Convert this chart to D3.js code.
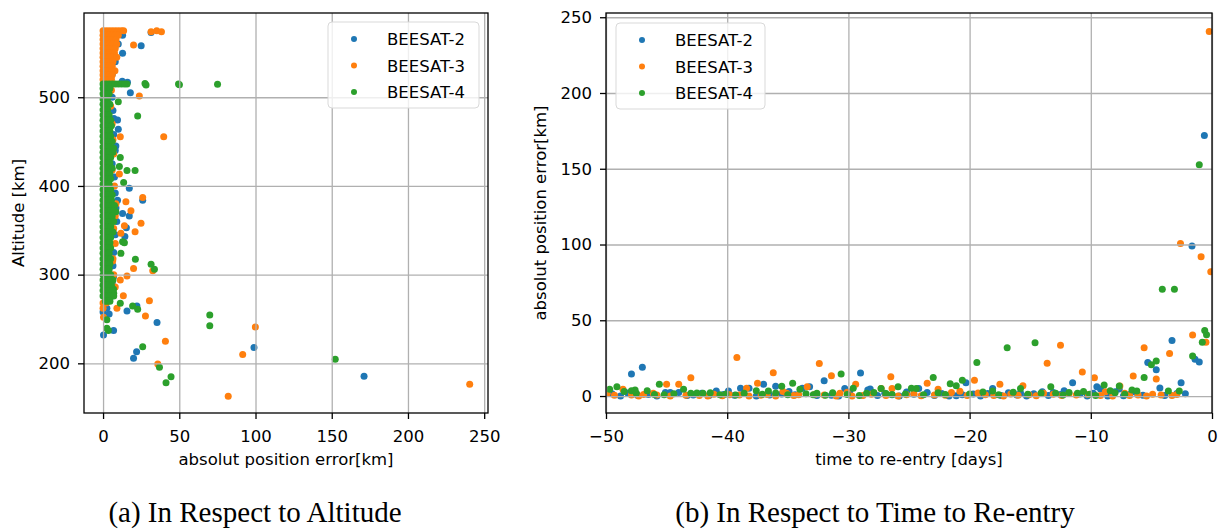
<!DOCTYPE html>
<html lang="en">
<head>
<meta charset="utf-8">
<title>BEESAT position error</title>
<script src="https://cdn.jsdelivr.net/npm/d3@7/dist/d3.min.js"></script>
<style>
  body {margin: 0; background: #fff;}
  text {font-family: "DejaVu Sans", sans-serif; fill: #000;}
  .caption {font-family: "Liberation Serif", "Times New Roman", serif;}
</style>
</head>
<body>
<svg width="1219" height="532"></svg>
<script>
// series
var names = ["BEESAT-2", "BEESAT-3", "BEESAT-4"];
var colors = ["#1f77b4", "#ff7f0e", "#2ca02c"];

// ticks
var ticksErrA = [0, 50, 100, 150, 200, 250];
var ticksAltA = [200, 300, 400, 500];
var ticksDaysB = [-50, -40, -30, -20, -10, 0];
var ticksErrB = [0, 50, 100, 150, 200, 250];

// (a) error vs altitude : [error km, altitude km]
var b2Alt = [[31.5,573],[12.8,570],[25,558],[12.8,549.6],[10,560],[8,540],[6,526],[12.6,518],[16,517],[17.9,505],[6,500],[6.5,485],
  [7.1,476],[9.5,474.4],[10,464],[7,458],[8.4,445],[8,440],[6,425],[7.5,410],[17.2,397.4],[8,392],[9.5,384],[26,384],
  [8.5,375],[12.8,369],[17.2,366],[9,360],[15.3,353],[8,345],[14.3,343],[7,325],[6.5,310],[6.9,298],[6,290],[4.7,286],
  [5,275],[1,268],[2.5,262],[15.7,259],[22.2,264.7],[0,258],[4,255.7],[35.4,245.9],[6.9,237],[0.3,232],[22,213],
  [20,205.7],[99,217.8],[171.2,185.4],[2,550],[3,520],[2,480],[2,400],[2,350],[2,300]];

var b3Alt = [[31.5,574],[35.2,575],[38.3,574],[20,559],[7.8,530],[5.6,536],[5.5,508],[23.8,501.5],[5,490],[6,470],
  [39.8,455.6],[11.3,455.6],[6.5,452],[7,436],[6,418],[10.7,413.5],[7.5,400],[26,387],[15,382.3],[8.5,380],[18.3,372],
  [8,366],[24.9,358],[14,355],[7,352],[21,348.5],[11.7,346.7],[8,335],[6.3,315.5],[6.5,318],[20,307],[32.6,304.5],
  [7,300],[15.7,298.5],[11.3,294],[8,286],[13.3,276.3],[30.4,270.7],[0,268],[2,268],[9.1,262],[0,262],[27.8,253.4],
  [0.3,252],[40.9,225],[35.9,199.3],[99.9,241],[91.6,210],[82.1,163],[240.5,176.4]];
// dense part near zero, one row per altitude: [altitude, errors...]
var b3AltRows = [[575,0,2,4,6,8,10,12,13.5],[570,0,2,4,6,8,10],[565,0,2,4,6,8.5],[560,0,2,4,6,9],[555,0,2,4,6,8],
  [550,0,2,4,6,7.5],[545,0,2,4,6,9],[540,0,2,4,6.5],[535,0,2,4,6],[530,0,2,4,5.5],[525,0,2,4,6],[520,0,2,4,5.5]];

var b4Alt = [[15.7,515],[28.2,513.9],[27.5,515.5],[50.1,514],[49.5,515],[75.1,514.6],[10,495],[22.7,479],[6.9,442.5],
  [11.3,432],[10.7,421.8],[15.7,417.3],[21,417.3],[13.5,404],[8.4,371],[12.8,337],[14,336],[11.7,324],[21.2,317.4],
  [31.5,311.7],[33.7,306],[6.9,283.5],[7,279],[11.3,267.8],[19.4,264.7],[22.7,261],[2.5,249],[2.5,239.6],[3.5,237],
  [26,218.8],[37,195.6],[44.6,185],[41.3,178.2],[70,254.6],[70,242.5],[152.3,204.6]];
var b4AltRows = [[515,0,2,4,6,8,10,12,14],[510,0,1.5,3,4.5],[504,0,1.5,3,4],[498,0,1.5,3],[492,0,1.5,3,4.5],[486,0,1.5,3],
  [480,0,1.5,3,4],[474,0,1.5,3,5],[468,0,1.5,3,5.5],[462,0,1.5,3,4.5],[456,0,1.5,3,5],[450,0,1.5,3,6],[444,0,1.5,3,4.5],
  [438,0,1.5,3,6.5],[432,0,1.5,3,5],[426,0,1.5,3,4.5],[420,0,1.5,3,6],[414,0,1.5,3,4.5],[408,0,1.5,3,5],[402,0,1.5,3,4],
  [396,0,1.5,3,5],[390,0,1.5,3,6],[384,0,1.5,3,5.5],[378,0,1.5,3,6,7.5],[372,0,1.5,3,5,7],[366,0,1.5,3,6],
  [360,0,1.5,3,5.5,7],[354,0,1.5,3,5],[348,0,1.5,3,6.5],[342,0,1.5,3,5],[336,0,1.5,3,4.5],[330,0,1.5,3,5],
  [324,0,1.5,3,4],[318,0,1.5,3,5],[312,0,1.5,3,4.5],[306,0,1.5,3,4],[300,0,1.5,3,5],[294,0,1.5,3,4.5,6.5],
  [288,0,1.5,3,5.5],[282,0,1.5,3,6],[276,0,1.5,3,4.5,7],[270,1.5,3,4.5]];

// (b) error vs time to re-entry : [days, error km]
var b2Days = [[-49.5,1.5],[-48.8,0],[-48.2,2],[-47.9,14.5],[-47.4,0.5],[-47,19],[-46.5,1],[-45.8,0],[-45.1,2.4],[-44.7,2.4],
  [-44,2.4],[-43.3,0.4],[-42.8,0.7],[-42.1,1.8],[-41.5,0.3],[-40.9,3.3],[-40.3,1],[-39.9,3.3],[-39.4,0.5],[-38.9,5.1],
  [-38.2,5.1],[-37.6,0],[-37,7.7],[-36.5,0.6],[-36,6.4],[-35.5,1.4],[-34.9,3],[-34.4,0.8],[-33.8,5.1],[-33.2,6.2],
  [-32.6,0.3],[-32,10.1],[-31.4,0.5],[-30.8,0],[-30.3,5],[-29.9,2.6],[-29,15.2],[-28.4,4],[-28.2,4.6],[-27.6,0.4],
  [-27,1.8],[-26.4,0.9],[-25.8,0],[-25.2,2.7],[-24.6,1.1],[-24.2,5],[-23.5,2.4],[-22.9,0.3],[-22.3,1.6],[-21.7,0],
  [-21.1,0.2],[-20.6,0.8],[-20.3,8.8],[-19.7,1.3],[-19.1,0],[-18.5,1.6],[-18.1,5],[-17.4,0.4],[-16.8,2.1],[-16.1,0.7],
  [-15.8,2],[-15.3,0],[-14.7,1.5],[-14,2.8],[-13.5,0.3],[-13.1,2.4],[-12.5,1],[-12.2,3.5],[-11.5,8.8],[-10.9,1.4],
  [-10.3,0],[-9.8,1.9],[-9.5,6.2],[-9.2,4.6],[-8.6,0],[-8,2.8],[-7.65,4.6],[-7.3,0.2],[-6.8,1],[-6.3,2.5],[-5.7,0.5],
  [-5.3,22.2],[-4.6,17.4],[-4.3,5.3],[-3.9,0.3],[-3.3,36.7],[-2.9,1.7],[-2.55,8.8],[-2.2,1.5],[-1.65,99],[-1.4,24.2],
  [-1.05,22.5],[-0.63,172]];

var b3Days = [[-49.9,1.8],[-49.3,0.5],[-48.6,4.4],[-47.9,0.7],[-47.3,0],[-46.9,1],[-46.1,1.8],[-45.8,0.6],[-45,7.7],
  [-44.7,0],[-44,7.7],[-43.4,0.5],[-43,12.1],[-42.3,0.4],[-41.6,0],[-41.1,1.2],[-40.4,0.2],[-39.8,0.9],[-39.2,25.5],
  [-39,0.7],[-38.4,5.1],[-38.2,0],[-37.5,8.4],[-37.2,0.5],[-36.7,1],[-36.2,15.4],[-36,0],[-35.4,3],[-35.1,1.8],
  [-34.5,0.3],[-34.1,0.9],[-33.4,6.2],[-32.8,1],[-32.4,21.4],[-32,0.6],[-31.4,13.4],[-31,0],[-30.7,1.9],[-30.1,2.5],
  [-29.7,0],[-29.4,7.7],[-28.8,0.4],[-28.1,1.2],[-27.3,5],[-26.9,0.3],[-26.5,12.8],[-26.4,5],[-25.9,0],[-25.2,0.8],
  [-24.6,1.5],[-24,0.2],[-23.5,8.4],[-22.9,0.6],[-22.6,4.4],[-22,0.5],[-21.5,2.4],[-20.8,3.2],[-20.2,0.3],[-19.6,10.4],
  [-19.3,2],[-18.7,0.8],[-18,0.4],[-17.5,7.7],[-17.2,0],[-16.6,1.3],[-16,0.5],[-15.6,6.8],[-15.1,0.9],[-14.5,0.2],
  [-13.9,1.8],[-13.6,21.6],[-13.1,1.2],[-12.5,33.5],[-12.4,0.3],[-11.8,1.6],[-11.2,0.6],[-10.7,15.8],[-10.2,1],
  [-9.7,12.1],[-9.2,0.4],[-8.8,2.9],[-8.2,0],[-7.6,6.6],[-7.2,1.8],[-6.8,0.3],[-6.5,13.2],[-6.1,0.7],[-5.6,31.9],
  [-5.4,0],[-4.9,1.2],[-4.6,11.2],[-4.2,0.6],[-3.5,28.1],[-3.3,0.4],[-2.9,1],[-2.6,100.6],[-1.6,40.3],[-0.9,92],
  [-0.5,35.5],[-0.23,240.6],[-0.1,82.1]];

var b4Days = [[-49.7,4.4],[-49.1,6.2],[-48.5,3],[-47.9,3.5],[-47.6,4],[-47.5,1.8],[-46.6,3.5],[-46,1],[-45.6,7.7],
  [-45.2,0.8],[-44.4,1.5],[-43.6,4.4],[-43,1.8],[-42.5,2],[-42,1.8],[-41.4,2.2],[-40.6,0.9],[-40.1,1.4],[-39.3,0.6],
  [-38.6,1.8],[-37.6,3.5],[-37.1,1.2],[-36.6,3.3],[-36,2],[-35.5,6.4],[-35,0.9],[-34.6,8.4],[-34,4.4],[-33.5,1.5],
  [-32.9,0.8],[-32.6,1.8],[-31.9,0.5],[-31.3,2.2],[-30.6,14.5],[-30.1,1],[-29.6,5.1],[-29.1,0.3],[-28.5,1.8],
  [-27.9,2.4],[-27.3,5],[-26.9,1.6],[-26.4,1],[-25.9,6.2],[-25.3,1.3],[-24.8,5.2],[-24.4,4.9],[-23.8,0.9],[-23,12.3],
  [-22.6,2.2],[-22,1],[-21.6,8.1],[-21.1,6.8],[-20.6,10.4],[-20,1.4],[-19.4,22.2],[-18.9,2.6],[-18.1,3.3],[-17.6,0.8],
  [-16.9,31.9],[-16.4,2.5],[-15.8,5],[-15.2,1.1],[-14.6,35.2],[-14.1,2],[-13.3,6.2],[-12.9,1.8],[-12.3,0.6],[-11.8,2.3],
  [-11.1,1.8],[-10.6,3],[-10.1,1.2],[-9.6,0.3],[-8.9,7.3],[-8.4,3.5],[-8,2.2],[-7.65,6.6],[-7.2,1.1],[-6.6,4],[-6.2,3.4],
  [-5.6,12.3],[-5,20.7],[-4.6,23.1],[-4.1,70.5],[-3.6,3.3],[-3.1,70.5],[-2.7,3.3],[-1.6,26.4],[-1.05,152.6],[-0.8,35.5],
  [-0.6,43.2],[-0.45,40.5]];

// rows [alt, e1, e2..] -> points [e, alt]
function unrow(rows) {
  return rows.flatMap(function (r) {
    return r.slice(1).map(function (e) { return [e, r[0]]; });
  });
}

var svg = d3.select("svg");
var fontSize = "16.5px";

function panel(p) {
  var x = d3.scaleLinear().domain(p.xDomain).range([p.left, p.right]);
  var y = d3.scaleLinear().domain(p.yDomain).range([p.bottom, p.top]);
  var g = svg.append("g");

  g.append("clipPath").attr("id", p.id)
    .append("rect")
      .attr("x", p.left).attr("y", p.top)
      .attr("width", p.right - p.left).attr("height", p.bottom - p.top);

  // points, one series after the other
  var pts = g.append("g").attr("clip-path", "url(#" + p.id + ")");
  p.series.forEach(function (s, i) {
    pts.selectAll("circle.s" + i)
      .data(s)
      .enter()
      .append("circle")
        .attr("class", "s" + i)
        .attr("cx", function (d) { return x(d[0]); })
        .attr("cy", function (d) { return y(d[1]); })
        .attr("r", 3.5)
        .style("fill", colors[i]);
  });

  // grid above the points, like matplotlib
  g.append("g")
    .attr("transform", "translate(0," + p.bottom + ")")
    .call(d3.axisBottom(x).tickValues(p.xTicks).tickSize(-(p.bottom - p.top)).tickFormat(""))
    .call(function (a) { a.select(".domain").remove(); })
    .selectAll("line").attr("stroke", "#b0b0b0").attr("stroke-width", 1.3);
  g.append("g")
    .attr("transform", "translate(" + p.left + ",0)")
    .call(d3.axisLeft(y).tickValues(p.yTicks).tickSize(-(p.right - p.left)).tickFormat(""))
    .call(function (a) { a.select(".domain").remove(); })
    .selectAll("line").attr("stroke", "#b0b0b0").attr("stroke-width", 1.3);

  // axes
  var ax = g.append("g")
    .attr("transform", "translate(0," + p.bottom + ")")
    .call(d3.axisBottom(x).tickValues(p.xTicks).tickSize(6).tickPadding(11).tickFormat(d3.format("d")));
  var ay = g.append("g")
    .attr("transform", "translate(" + p.left + ",0)")
    .call(d3.axisLeft(y).tickValues(p.yTicks).tickSize(6).tickPadding(8).tickFormat(d3.format("d")));
  [ax, ay].forEach(function (a) {
    a.select(".domain").remove();
    a.selectAll("line").attr("stroke", "#000").attr("stroke-width", 1.3);
    a.selectAll("text").style("font-family", "DejaVu Sans").style("font-size", fontSize).attr("fill", "#000");
  });

  g.append("rect")
    .attr("x", p.left).attr("y", p.top)
    .attr("width", p.right - p.left).attr("height", p.bottom - p.top)
    .attr("fill", "none").attr("stroke", "#000").attr("stroke-width", 1.3);

  g.append("text")
    .attr("x", (p.left + p.right) / 2).attr("y", 465)
    .style("text-anchor", "middle").style("font-size", fontSize)
    .text(p.xLabel);
  g.append("text")
    .attr("transform", "translate(" + p.yLabelX + "," + (p.top + p.bottom) / 2 + ") rotate(-90)")
    .style("text-anchor", "middle").style("font-size", fontSize)
    .text(p.yLabel);

  // legend
  var lg = g.append("g").attr("transform", "translate(" + p.legend[0] + "," + p.legend[1] + ")");
  lg.append("rect")
    .attr("width", p.legend[2]).attr("height", 86).attr("rx", 4)
    .attr("fill", "#fff").attr("fill-opacity", 0.8)
    .attr("stroke", "#d9d9d9").attr("stroke-width", 1);
  names.forEach(function (n, i) {
    lg.append("circle")
      .attr("cx", 26).attr("cy", 17 + i * 26.5).attr("r", 3)
      .style("fill", colors[i]);
    lg.append("text")
      .attr("x", 59).attr("y", 17 + i * 26.5 + 6)
      .style("font-size", fontSize)
      .text(n);
  });

  svg.append("text")
    .attr("class", "caption")
    .attr("x", p.captionX).attr("y", 522)
    .style("text-anchor", "middle").style("font-size", "29px")
    .text(p.caption);
}

panel({
  id: "clipA", left: 84, right: 488, top: 13, bottom: 413,
  xDomain: [-12.5, 252.5], yDomain: [144, 595],
  xTicks: ticksErrA, yTicks: ticksAltA,
  series: [b2Alt, b3Alt.concat(unrow(b3AltRows)), b4Alt.concat(unrow(b4AltRows))],
  xLabel: "absolut position error[km]", yLabel: "Altitude [km]", yLabelX: 24,
  legend: [328, 22, 151],
  caption: "(a) In Respect to Altitude", captionX: 255
});

panel({
  id: "clipB", left: 606, right: 1212, top: 13, bottom: 413,
  xDomain: [-50, 0], yDomain: [-11.2, 252.8],
  xTicks: ticksDaysB, yTicks: ticksErrB,
  series: [b2Days, b3Days, b4Days],
  xLabel: "time to re-entry [days]", yLabel: "absolut position error[km]", yLabelX: 546,
  legend: [616, 23, 149],
  caption: "(b) In Respect to Time to Re-entry", captionX: 875
});
</script>
</body>
</html>
